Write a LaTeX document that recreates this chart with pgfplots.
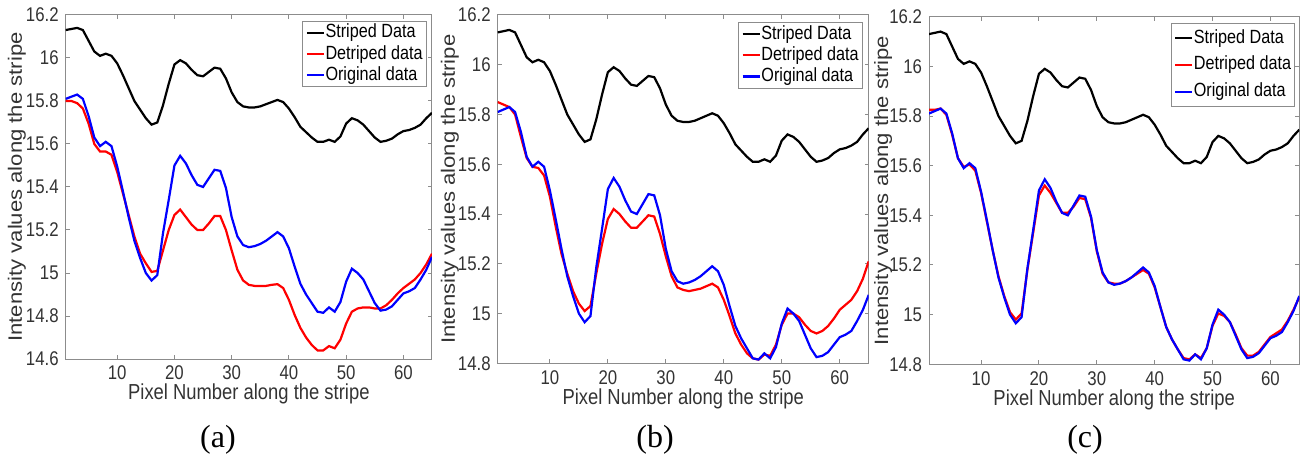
\documentclass[border=0pt]{standalone}
\usepackage{graphicx}
\usepackage{fontspec}
\setmainfont{Liberation Sans}
\newfontfamily\serifa{Liberation Serif}
\usepackage{pgfplots}
\usepackage{pgfplotstable}
\pgfplotsset{compat=1.18}
\definecolor{axgray}{rgb}{0.55,0.55,0.55}
\definecolor{txtgray}{rgb}{0.2,0.2,0.2}
\pgfplotstableread{
x s o ra rb rc
1 16.13 15.81 15.80 15.85 15.825
2 16.135 15.82 15.80 15.84 15.825
3 16.14 15.83 15.79 15.83 15.83
4 16.13 15.81 15.765 15.80 15.805
5 16.08 15.73 15.695 15.71 15.725
6 16.03 15.63 15.60 15.625 15.63
7 16.01 15.59 15.565 15.59 15.595
8 16.02 15.61 15.565 15.585 15.605
9 16.01 15.59 15.55 15.555 15.58
10 15.975 15.495 15.47 15.47 15.49
11 15.92 15.38 15.37 15.35 15.375
12 15.86 15.26 15.27 15.24 15.26
13 15.80 15.15 15.17 15.16 15.155
14 15.76 15.07 15.09 15.09 15.075
15 15.72 15.00 15.045 15.04 15.01
16 15.69 14.965 15.005 15.01 14.98
17 15.70 14.99 15.01 15.03 15.005
18 15.78 15.185 15.105 15.16 15.18
19 15.88 15.34 15.20 15.28 15.33
20 15.97 15.50 15.27 15.38 15.48
21 15.99 15.545 15.295 15.42 15.52
22 15.975 15.51 15.26 15.40 15.49
23 15.945 15.455 15.225 15.37 15.45
24 15.92 15.41 15.20 15.345 15.41
25 15.915 15.40 15.20 15.345 15.41
26 15.935 15.44 15.23 15.37 15.435
27 15.955 15.48 15.265 15.395 15.47
28 15.95 15.475 15.265 15.39 15.465
29 15.905 15.395 15.20 15.32 15.39
30 15.84 15.26 15.105 15.23 15.255
31 15.795 15.17 15.015 15.15 15.165
32 15.775 15.13 14.965 15.105 15.13
33 15.77 15.12 14.945 15.095 15.125
34 15.77 15.125 14.94 15.09 15.125
35 15.775 15.135 14.94 15.095 15.135
36 15.785 15.15 14.94 15.10 15.15
37 15.795 15.17 14.945 15.11 15.165
38 15.805 15.19 14.948 15.12 15.18
39 15.795 15.17 14.93 15.105 15.165
40 15.765 15.115 14.875 15.055 15.11
41 15.725 15.03 14.805 14.99 15.03
42 15.68 14.95 14.745 14.92 14.95
43 15.655 14.90 14.70 14.875 14.90
44 15.63 14.86 14.665 14.84 14.86
45 15.61 14.82 14.64 14.82 14.825
46 15.61 14.815 14.64 14.815 14.82
47 15.62 14.84 14.66 14.835 14.84
48 15.61 14.82 14.65 14.83 14.825
49 15.635 14.865 14.69 14.875 14.865
50 15.695 14.96 14.765 14.955 14.955
51 15.72 15.02 14.82 15.00 15.005
52 15.71 15.00 14.835 15.00 14.995
53 15.69 14.97 14.84 14.985 14.97
54 15.66 14.915 14.84 14.955 14.92
55 15.63 14.86 14.835 14.93 14.865
56 15.61 14.825 14.835 14.92 14.835
57 15.615 14.83 14.85 14.93 14.835
58 15.625 14.845 14.875 14.95 14.85
59 15.645 14.875 14.905 14.98 14.88
60 15.66 14.905 14.93 15.015 14.91
61 15.665 14.915 14.95 15.035 14.925
62 15.675 14.93 14.97 15.055 14.94
63 15.69 14.97 15.00 15.09 14.975
64 15.72 15.015 15.04 15.14 15.02
65 15.745 15.075 15.09 15.21 15.07
}\data
\newcommand{\vs}[1]{\scalebox{1}[1.18]{#1}}
\pgfplotsset{
  panel/.style={
    scale only axis,
    anchor=south west,
    xmin=1, xmax=65,
    xtick={10,20,30,40,50,60},
    axis line style={axgray, line width=0.5pt},
    tick style={axgray, line width=0.5pt},
    major tick length=2pt,
    tick align=inside,
    xtick pos=both, ytick pos=both,
    /pgf/number format/assume math mode=true,
    tick label style={font=\fontsize{8.4pt}{10pt}\selectfont, text=txtgray},
    xticklabel={\vs{\pgfmathprintnumber{\tick}}},
    yticklabel={\vs{\pgfmathprintnumber{\tick}}},
    xlabel={\vs{Pixel Number along the stripe}},
    ylabel={\scalebox{1.2}[1.05]{Intensity values along the stripe}},
    label style={font=\fontsize{9.2pt}{11pt}\selectfont, text=txtgray},
    xlabel style={at={(axis description cs:0.5,-0.102)}, anchor=center},
    legend cell align=left,
    legend style={font=\fontsize{8.1pt}{9pt}\selectfont, draw=axgray, line width=0.5pt,
      anchor=north east, inner xsep=1.5pt, inner ysep=1.5pt, row sep=2pt,
      nodes={inner xsep=0.3pt, inner ysep=0pt, text height=6.8pt, text depth=1.8pt},
      /tikz/every even column/.append style={column sep=0pt}},
    legend image code/.code={\draw[#1, line width=1.1pt] (0pt,0pt) -- (8.5pt,0pt);},
    every axis plot/.append style={line width=1.1pt},
  }
}
\begin{document}
\begin{tikzpicture}
\path[use as bounding box] (0,0) rectangle (654.5pt,235.5pt);
% (a)
\begin{axis}[panel, at={(32.85pt,56pt)}, width=183.15pt, height=172pt,
  ymin=14.6, ymax=16.2, ytick={14.6,14.8,15,15.2,15.4,15.6,15.8,16,16.2},
  ylabel style={at={(axis description cs:-0.133,0.5)}, anchor=center},
  legend style={at={(axis description cs:0.986,0.983)}}]
\addplot[black] table[x=x,y=s] {\data};
\addplot[red] table[x=x,y=ra] {\data};
\addplot[blue] table[x=x,y=o] {\data};
\legend{\vs{Striped Data}, \vs{Detriped data}, \vs{Original data}}
\end{axis}
% (b)
\begin{axis}[panel, at={(248.85pt,53.85pt)}, width=185.5pt, height=174.15pt,
  ymin=14.8, ymax=16.2, ytick={14.8,15,15.2,15.4,15.6,15.8,16,16.2},
  ylabel style={at={(axis description cs:-0.129,0.5)}, anchor=center},
  legend style={at={(axis description cs:0.984,0.98)}}]
\addplot[black] table[x=x,y=s] {\data};
\addplot[red] table[x=x,y=rb] {\data};
\addplot[blue] table[x=x,y=o] {\data};
\legend{\vs{Striped Data}, \vs{Detriped data}, \vs{Original data}}
\end{axis}
% (c)
\begin{axis}[panel, at={(464.5pt,53.35pt)}, width=185.15pt, height=173.8pt,
  ymin=14.8, ymax=16.2, ytick={14.8,15,15.2,15.4,15.6,15.8,16,16.2},
  ylabel style={at={(axis description cs:-0.124,0.5)}, anchor=center},
  legend style={at={(axis description cs:0.989,0.982)}, row sep=4.8pt, inner ysep=3pt}]
\addplot[black] table[x=x,y=s] {\data};
\addplot[red] table[x=x,y=rc] {\data};
\addplot[blue] table[x=x,y=o] {\data};
\legend{\vs{Striped Data}, \vs{Detriped data}, \vs{Original data}}
\end{axis}
\node[font=\serifa\fontsize{16pt}{18pt}\selectfont] at (109pt,15.5pt) {(a)};
\node[font=\serifa\fontsize{16pt}{18pt}\selectfont] at (327.5pt,15.5pt) {(b)};
\node[font=\serifa\fontsize{16pt}{18pt}\selectfont] at (542.5pt,15.5pt) {(c)};
\end{tikzpicture}
\end{document}
